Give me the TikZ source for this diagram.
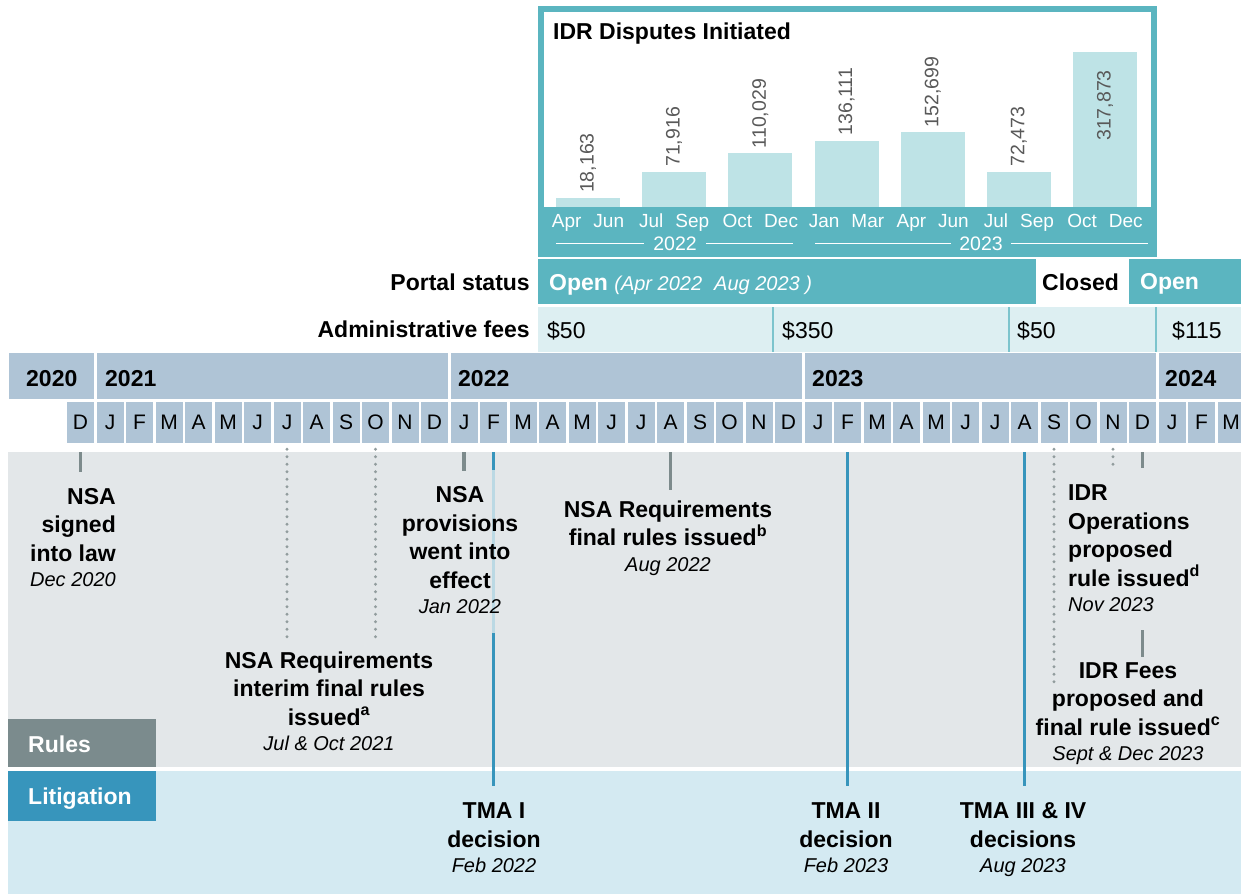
\documentclass[tikz,border=0pt]{standalone}
\usepackage{fontspec}
\setmainfont{Liberation Sans}
\usepackage{tikz}
\usetikzlibrary{positioning}

\definecolor{portalteal}{RGB}{91,181,192}
\definecolor{barfill}{RGB}{190,227,230}
\definecolor{feefill}{RGB}{221,239,242}
\definecolor{calfill}{RGB}{175,196,214}
\definecolor{rulesbg}{RGB}{227,231,233}
\definecolor{rulesbox}{RGB}{123,139,141}
\definecolor{litbg}{RGB}{212,234,242}
\definecolor{litblue}{RGB}{55,149,188}
\definecolor{tickgray}{RGB}{125,139,140}
\definecolor{valgray}{RGB}{89,89,89}
\definecolor{fadedblue}{RGB}{187,217,228}

\newcommand{\evdate}[1]{{\fontsize{20}{24}\selectfont\mdseries\itshape #1}}
\newcommand{\qgap}{\hspace{12pt}}

\begin{document}
\begin{tikzpicture}[
  x=1pt, y=-1pt,
  big/.style={font=\fontsize{23}{28.5}\selectfont\bfseries, inner sep=0pt},
  lbl/.style={big, align=center, anchor=base},
  plain/.style={font=\fontsize{23}{27}\selectfont, inner sep=0pt, anchor=base west},
  mon/.style={fill=calfill, minimum width=27, minimum height=41, inner sep=0pt, font=\fontsize{21}{24}\selectfont},
  val/.style={rotate=90, inner sep=0pt, text=valgray, font=\fontsize{19.5}{22}\selectfont},
  qtr/.style={text=white, inner sep=0pt, anchor=base, font=\fontsize{19}{22}\selectfont},
  sidebox/.style={minimum width=148, minimum height=48, inner sep=0pt, anchor=north west},
  solidtick/.style={tickgray, line width=3.5},
  dotline/.style={tickgray!85, line width=3.2, line cap=round, dash pattern=on 0pt off 7.5pt},
  caseline/.style={litblue, line width=3.5}
]
  \fill[white] (0,0) rectangle (1241,894);
  \useasboundingbox (0,0) rectangle (1241,894);

  \fill[portalteal] (538,6) rectangle (1157,257);
  \fill[white] (544,12) rectangle (1151,207);
  \node[big, anchor=base west] (ttl) at (553,39) {IDR Disputes Initiated};
  \foreach \v/\lab/\q [count=\i from 0] in {18.163/{18,163}/{Apr\qgap Jun}, 71.916/{71,916}/{Jul\qgap Sep}, 110.029/{110,029}/{Oct\qgap Dec}, 136.111/{136,111}/{Jan\qgap Mar}, 152.699/{152,699}/{Apr\qgap Jun}, 72.473/{72,473}/{Jul\qgap Sep}, 317.873/{317,873}/{Oct\qgap Dec}} {
    \pgfmathsetmacro\bx{556+86.17*\i}
    \pgfmathsetmacro\bt{207-0.488*\v}
    \fill[barfill] (\bx,\bt) rectangle (\bx+64,207);
    \node[qtr] (q\i) at (\bx+32,227) {\q};
    \ifnum\i<6
      \node[val, anchor=west] (v\i) at (\bx+32,\bt-5) {\lab};
    \else
      \node[val, anchor=east] (v\i) at (\bx+32,70) {\lab};
    \fi
  }
  \node[qtr, font=\fontsize{19.5}{22}\selectfont] (y22) at (675,250) {2022};
  \node[qtr, font=\fontsize{19.5}{22}\selectfont] (y23) at (981,250) {2023};
  \draw[white, line width=1] (556,243) -- (644,243) (706,243) -- (793,243);
  \draw[white, line width=1] (815,243) -- (951,243) (1011,243) -- (1148,243);

  \node[big, anchor=base east] (portal) at (530,290) {Portal status};
  \fill[portalteal] (538,259) rectangle (1036,304);
  \node[big, anchor=base west, text=white] (open1) at (549,290) {Open \evdate{(Apr 2022\qgap Aug 2023 )}};
  \node[big, anchor=base west] (closed) at (1042,290) {Closed};
  \fill[portalteal] (1129,259) rectangle (1241,304);
  \node[big, anchor=base west, text=white] (open2) at (1140,289) {Open};

  \node[big, anchor=base east] (fees) at (530,337) {Administrative fees};
  \fill[feefill] (538,307) rectangle (1241,352);
  \foreach \x in {773,1009,1156}
    \draw[portalteal!80, line width=2] (\x,307) -- (\x,352);
  \foreach \x/\f [count=\i] in {547/\$50, 782/\$350, 1017/\$50, 1172/\$115}
    \node[plain] (fee\i) at (\x,338) {\f};

  \foreach \a/\b/\y/\lx in {9/94/2020/26, 96.5/448/2021/105, 450.5/802/2022/458, 804.5/1156/2023/812, 1158.5/1241/2024/1165} {
    \fill[calfill] (\a,353) rectangle (\b,399);
    \node[big, anchor=base west] (yr\y) at (\lx,386) {\y};
  }
  \foreach \m [count=\i from 0] in {D,J,F,M,A,M,J,J,A,S,O,N,D,J,F,M,A,M,J,J,A,S,O,N,D,J,F,M,A,M,J,J,A,S,O,N,D,J,F,M}
    \node[mon] (m\i) at (80.5+29.5*\i,422.5) {\m};

  \fill[rulesbg] (8,452) rectangle (1241,767);
  \fill[litbg] (8,771) rectangle (1241,894);
  \node[sidebox, fill=rulesbox] (rules) at (8,719) {};
  \node[big, anchor=base west, text=white] (rulestxt) at (28,752) {Rules};
  \node[sidebox, fill=litblue, minimum height=50] (lit) at (8,771) {};
  \node[big, anchor=base west, text=white] (littxt) at (28,804) {Litigation};

  \draw[solidtick] (m0.south) ++(0,9) -- ++(0,20);
  \draw[solidtick] (m13.south) ++(0,9) -- ++(0,19);
  \draw[solidtick] (m20.south) ++(0,9) -- ++(0,38);
  \draw[solidtick] (m36.south) ++(0,9) -- ++(0,16);
  \draw[solidtick] (m36.south) ++(0,187) -- ++(0,27);
  \foreach \k/\len in {7/188, 10/188, 33/240, 35/18}
    \draw[dotline] (m\k.south) ++(0,6) -- ++(0,\len);
  \draw[caseline] (m14.south) ++(0,9) -- ++(0,18);
  \draw[fadedblue, line width=3.5] (m14.south) ++(0,27) -- ++(0,163);
  \draw[caseline] (m14.south) ++(0,190) -- ++(0,153);
  \foreach \k in {26,32}
    \draw[caseline] (m\k.south) ++(0,9) -- ++(0,334);

  \node[lbl, anchor=base east, align=right] (signed) at (116,586) {NSA\\signed\\into law\\[-3.5pt]\evdate{Dec 2020}};
  \node[lbl] (interim) at (329,750) {NSA Requirements\\interim final rules\\issued\textsuperscript{a}\\[-3.5pt]\evdate{Jul \& Oct 2021}};
  \node[lbl] (effect) at (460,613) {NSA\\provisions\\went into\\effect\\[-3.5pt]\evdate{Jan 2022}};
  \node[lbl] (final) at (668,571) {NSA Requirements\\final rules issued\textsuperscript{b}\\[-3pt]\evdate{Aug 2022}};
  \node[lbl, anchor=base west, align=left] (ops) at (1068,611) {IDR\\Operations\\proposed\\rule issued\textsuperscript{d}\\[-3.5pt]\evdate{Nov 2023}};
  \node[lbl] (idrfees) at (1128,760) {IDR Fees\\proposed and\\final rule issued\textsuperscript{c}\\[-3.5pt]\evdate{Sept \& Dec 2023}};
  \node[lbl] (tma1) at (494,872) {TMA I\\decision\\[-3.5pt]\evdate{Feb 2022}};
  \node[lbl] (tma2) at (846,872) {TMA II\\decision\\[-3.5pt]\evdate{Feb 2023}};
  \node[lbl] (tma34) at (1023,872) {TMA III \& IV\\decisions\\[-3.5pt]\evdate{Aug 2023}};
\end{tikzpicture}
\end{document}
